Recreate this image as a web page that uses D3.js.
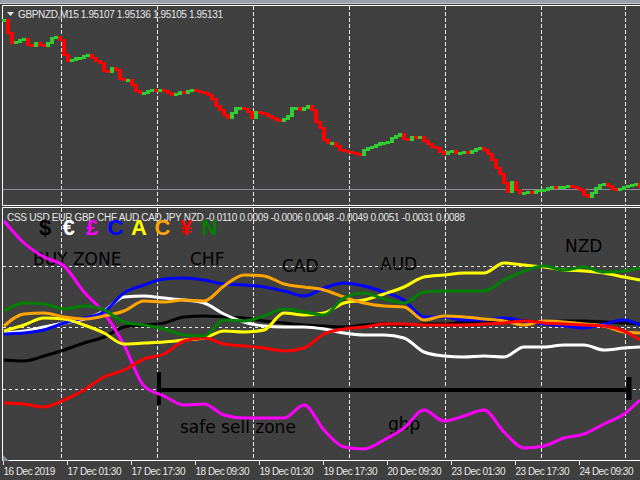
<!DOCTYPE html>
<html><head><meta charset="utf-8">
<script src="https://cdn.jsdelivr.net/npm/d3@7"></script>
<style>html,body{margin:0;padding:0;background:#404040;overflow:hidden}svg{display:block}</style>
</head><body><svg id="c" width="640" height="480"></svg>
<script>
// ---------- DATA ----------
const symbolName = "GBPNZD,M15";
const ohlcLast = ["1.95107","1.95136","1.95105","1.95131"];
const bidPrice = 1.95131;
// close prices, one every 4 bars (M15)
const closes = [2.0189,2.0137,2.0097,2.0101,2.0109,2.0113,2.0089,2.0085,2.0097,2.0089,
2.0085,2.0097,2.0117,2.0121,2.0109,2.0049,2.0025,2.0029,2.0037,2.0037,
2.0045,2.0049,2.0037,2.0025,2.0017,1.9985,1.9981,1.9997,1.9989,1.9953,
1.9949,1.9949,1.9929,1.9905,1.9897,1.9897,1.9905,1.9909,1.9905,1.9909,
1.9905,1.9897,1.9889,1.9893,1.9901,1.9897,1.9905,1.9909,1.9905,1.9901,
1.9897,1.9889,1.9873,1.9845,1.9829,1.9809,1.9797,1.9817,1.9837,1.9837,
1.9833,1.9821,1.9797,1.9821,1.9817,1.9813,1.9805,1.9797,1.9789,1.9785,
1.9793,1.9805,1.9837,1.9837,1.9829,1.9837,1.9845,1.9829,1.9781,1.9757,
1.9709,1.9697,1.9697,1.9685,1.9669,1.9665,1.9661,1.9657,1.9653,1.9649,
1.9669,1.9677,1.9681,1.9689,1.9697,1.9697,1.9701,1.9717,1.9725,1.9733,
1.9713,1.9709,1.9721,1.9717,1.9721,1.9705,1.9693,1.9681,1.9677,1.9661,
1.9653,1.9661,1.9665,1.9657,1.9657,1.9661,1.9657,1.9665,1.9673,1.9677,
1.9669,1.9653,1.9629,1.9597,1.9573,1.9537,1.9501,1.9541,1.9509,1.9497,
1.9497,1.9501,1.9497,1.9505,1.9509,1.9509,1.9517,1.9521,1.9517,1.9521,
1.9521,1.9525,1.9521,1.9517,1.9509,1.9489,1.9481,1.9497,1.9517,1.9529,
1.9533,1.9525,1.9513,1.9509,1.9513,1.9521,1.9525,1.9529,1.9533,1.9521];
const closeStep = 4;

const timeLabels = ["16 Dec 2019","17 Dec 01:30","17 Dec 17:30","18 Dec 09:30","19 Dec 01:30",
  "19 Dec 17:30","20 Dec 09:30","23 Dec 01:30","23 Dec 17:30","24 Dec 09:30"];
const timeTickBars = [-1,63,127,191,255,319,383,447,511,575];
const dayGridBars = [57,153,249,345,441,537,621];

// currency strength lines, sampled every 20 bars (last at bar 636)
const sampleBars = [0,20,40,60,80,100,120,140,160,180,200,220,240,260,280,300,320,340,360,380,400,420,440,460,480,500,520,540,560,580,600,620,636];
const currencies = ["USD","EUR","GBP","CHF","AUD","CAD","JPY","NZD"];
const usd = [-0.33,-0.34,-0.29,-0.23,-0.16,-0.10,0.00,0.02,0.04,0.10,0.11,0.10,0.09,0.06,0.04,0.02,0.01,0.00,0.02,0.03,0.02,0.03,0.03,0.05,0.06,0.07,0.06,0.05,0.06,0.06,0.05,0.04,0.03];
const eur = [-0.06,-0.04,0.00,0.04,0.08,0.16,0.30,0.31,0.29,0.27,0.24,0.13,0.05,0.01,0.00,0.00,-0.02,-0.06,-0.08,-0.08,-0.11,-0.25,-0.29,-0.30,-0.29,-0.30,-0.20,-0.20,-0.18,-0.18,-0.23,-0.21,-0.20];
const gbp = [1.06,0.84,0.70,0.61,0.35,0.14,-0.18,-0.59,-0.69,-0.78,-0.77,-0.88,-0.91,-0.91,-0.91,-0.78,-1.03,-1.20,-1.22,-1.13,-1.01,-0.83,-0.94,-0.89,-0.83,-1.05,-1.21,-1.19,-1.11,-1.07,-0.97,-0.87,-0.73];
const chf = [-0.07,-0.06,-0.03,0.04,0.09,0.15,0.34,0.42,0.48,0.49,0.47,0.43,0.42,0.40,0.36,0.31,0.39,0.44,0.41,0.35,0.27,0.10,0.10,0.07,0.07,0.09,0.06,0.03,0.01,-0.01,0.03,0.07,0.02];
const aud = [-0.04,0.02,0.09,0.08,0.02,-0.06,-0.17,-0.16,-0.15,-0.13,-0.11,-0.04,-0.05,-0.03,0.14,0.12,0.14,0.24,0.27,0.33,0.40,0.50,0.52,0.54,0.54,0.64,0.62,0.60,0.57,0.56,0.54,0.50,0.47];
const cad = [0.01,0.13,0.14,0.10,0.08,0.11,0.16,0.26,0.25,0.27,0.26,0.41,0.52,0.51,0.43,0.40,0.37,0.30,0.24,0.21,0.20,0.07,0.11,0.10,0.08,0.06,0.02,0.06,0.05,0.03,0.01,-0.05,-0.06];
const jpy = [-0.76,-0.77,-0.80,-0.73,-0.63,-0.50,-0.43,-0.32,-0.27,-0.14,-0.11,-0.17,-0.19,-0.21,-0.24,-0.21,-0.07,-0.02,0.00,0.03,0.03,0.02,0.02,0.02,0.03,0.04,0.06,0.04,0.03,0.02,0.01,-0.04,-0.13];
const nzd = [0.16,0.24,0.23,0.18,0.21,0.17,0.05,0.02,-0.02,-0.08,-0.09,0.07,0.06,0.11,0.18,0.15,0.12,0.29,0.34,0.28,0.24,0.35,0.36,0.36,0.36,0.47,0.56,0.61,0.57,0.60,0.55,0.56,0.59];
const cssValues = ["-0.0110","0.0009","-0.0006","0.0048","-0.0049","0.0051","-0.0031","0.0088"];
const symbols = ["$","€","£","C","A","C","¥","N"];
const levels = [0.61, 0, -0.62];

// ---------- STYLE ----------
const colors = {USD:"#000000",EUR:"#ffffff",GBP:"#ff00ff",CHF:"#0000ff",AUD:"#ffff00",CAD:"#ffa500",JPY:"#ff0000",NZD:"#008000"};
const seriesData = {USD:usd,EUR:eur,GBP:gbp,CHF:chf,AUD:aud,CAD:cad,JPY:jpy,NZD:nzd};
const BG = "#404040", FG = "#ffffff";
const FONT = "Liberation Sans, Arial, sans-serif";

const svg = d3.select("#c");
svg.append("rect").attr("width",640).attr("height",480).attr("fill",BG);
svg.append("rect").attr("width",640).attr("height",4).attr("fill","#9aa0aa");
svg.append("line").attr("x1",0).attr("x2",640).attr("y1",3.5).attr("y2",3.5).attr("stroke","#c5cad2");

const x = d3.scaleLinear().domain([0,636]).range([4,640]);
const yP = d3.scaleLinear().domain([1.9449,2.0245]).range([205,6]);
const yI = d3.scaleLinear().domain([-1.33,1.19]).range([460,208]);

// pane frames
const frame = svg.append("g").attr("stroke",FG).attr("stroke-width",1).attr("fill","none");
frame.append("path").attr("d","M640,5.5H2.5V205.5H640");
frame.append("path").attr("d","M640,207.5H2.5V460.5H640");

// vertical day grid
const grid = svg.append("g").attr("stroke","#e8e8e8").attr("stroke-dasharray","4,2");
dayGridBars.forEach(b=>{
  const gx = Math.round(x(b))+0.5;
  grid.append("line").attr("x1",gx).attr("x2",gx).attr("y1",6).attr("y2",205);
  grid.append("line").attr("x1",gx).attr("x2",gx).attr("y1",208).attr("y2",460);
});

// ---------- PRICE PANE ----------
svg.append("line").attr("x1",3).attr("x2",640).attr("y1",Math.round(yP(bidPrice))+0.5).attr("y2",Math.round(yP(bidPrice))+0.5)
  .attr("stroke","#8c8f9a").attr("stroke-width",1);
const candles = closes.map((c,i)=>({bar:i*closeStep, open: i?closes[i-1]:c, close:c}));
svg.append("g").selectAll("rect").data(candles).join("rect")
  .attr("x",d=>x(d.bar)-2).attr("width",4)
  .attr("y",d=>Math.min(yP(d.open),yP(d.close))-1)
  .attr("height",d=>Math.max(Math.abs(yP(d.open)-yP(d.close)),1)+2)
  .attr("fill",d=>d.close>=d.open?"#32cd32":"#ff0000");

svg.append("path").attr("d","M7,12H14L10.5,16Z").attr("fill","#e8e8e8");
svg.append("text").attr("x",18).attr("y",17.5)
  .attr("font-family",FONT).attr("font-size",10)
  .attr("fill","#e8e8e8").attr("textLength",205).attr("lengthAdjust","spacing")
  .text(symbolName+"  "+ohlcLast.join(" "));

// ---------- INDICATOR PANE ----------
const lv = svg.append("g").attr("stroke","#e8e8e8").attr("stroke-dasharray","3,3");
levels.forEach(l=>{
  const ly = Math.round(yI(l))+0.5;
  lv.append("line").attr("x1",3).attr("x2",640).attr("y1",ly).attr("y2",ly);
});

const ann = svg.append("g").attr("font-family","DejaVu Sans, Verdana, sans-serif").attr("font-size",17).attr("fill","#000");
[["BUY ZONE",29,0.62],["CHF",186,0.62],["CAD",278,0.55],["AUD",376,0.57],["NZD",561,0.75],["safe sell zone",176,-1.06],["gbp",384,-1.03]]
  .forEach(([t,b,v])=>ann.append("text").attr("x",x(b)).attr("y",yI(v)).text(t));

// black zone bar
const zb = svg.append("g").attr("stroke","#000").attr("stroke-linecap","butt");
zb.append("line").attr("x1",x(155)).attr("x2",x(627)).attr("y1",yI(-0.63)).attr("y2",yI(-0.63)).attr("stroke-width",4);
zb.append("line").attr("x1",x(155)).attr("x2",x(155)).attr("y1",yI(-0.45)).attr("y2",yI(-0.78)).attr("stroke-width",4);
zb.append("line").attr("x1",x(625)).attr("x2",x(625)).attr("y1",yI(-0.50)).attr("y2",yI(-0.73)).attr("stroke-width",5);

const line = d3.line().x((d,i)=>x(sampleBars[i])).y(d=>yI(d)).curve(d3.curveMonotoneX);
const lg = svg.append("g").attr("fill","none").attr("stroke-width",3).attr("stroke-linejoin","round");
currencies.forEach(c=>{
  lg.append("path").attr("d",line(seriesData[c])).attr("stroke",colors[c]);
});

svg.append("text").attr("x",7).attr("y",220.5)
  .attr("font-family",FONT).attr("font-size",10)
  .attr("fill","#e8e8e8").attr("textLength",458).attr("lengthAdjust","spacing")
  .text("CSS "+currencies.join(" ")+" "+cssValues.join(" "));

const sym = svg.append("g").attr("font-family",FONT).attr("font-size",22).attr("font-weight","bold").attr("text-anchor","middle");
symbols.forEach((s,i)=>{
  sym.append("text").attr("x",45+i*23.5).attr("y",235).attr("fill",colors[currencies[i]]).text(s);
});

// bottom-left triangle
svg.append("path").attr("d","M3,455V461H9Z").attr("fill","#8090a0");

// ---------- TIME AXIS ----------
const axis = d3.axisBottom(x).tickValues(timeTickBars).tickFormat((d,i)=>timeLabels[i]).tickSize(4).tickSizeOuter(0);
const ax = svg.append("g").attr("transform","translate(0,461)").call(axis);
ax.select(".domain").remove();
ax.selectAll(".tick line").attr("stroke","#e8e8e8");
ax.selectAll(".tick text").attr("fill","#e8e8e8").attr("text-anchor","start").attr("dx",0).attr("dy",0).attr("y",14)
  .attr("font-family",FONT).attr("font-size",10).attr("letter-spacing","-0.5px");
</script></body></html>
